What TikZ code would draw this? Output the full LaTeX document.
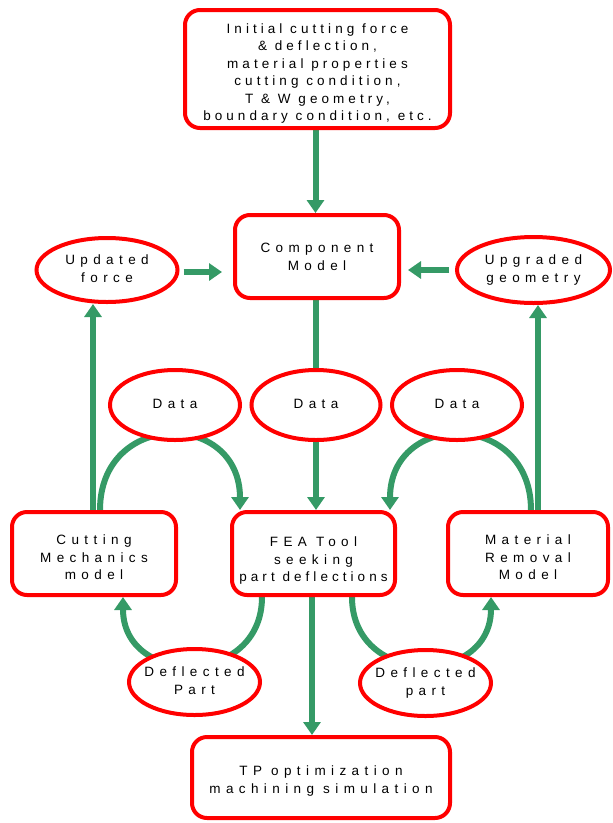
\documentclass[tikz,border=0pt]{standalone}
\usepackage{fontspec}
\setmainfont{Liberation Sans}
\newfontfamily\widefont[LetterSpace=40]{Liberation Sans}
\newfontfamily\midfont[LetterSpace=30]{Liberation Sans}
\usetikzlibrary{arrows.meta,shapes.geometric,backgrounds,calc}
\definecolor{gr}{RGB}{53,154,102}
\definecolor{rd}{RGB}{255,0,0}
% #1 = how far the text is moved down inside its node
\newcommand\lns[2][0pt]{\makebox[0pt]{\raisebox{0pt}[\dimexpr\height+#1*2\relax]{\begin{tabular}{@{}c@{}}#2\end{tabular}}}}
\begin{document}
\begin{tikzpicture}[x=1pt,y=-1pt,
  box/.style={draw=rd, line width=4pt, fill=white, rounded corners=15pt, inner sep=0pt,
    font=\fontsize{13.5}{17.5}\selectfont\widefont},
  oval/.style={ellipse, draw=rd, line width=4pt, fill=white, inner sep=0pt,
    font=\fontsize{13.5}{17.5}\selectfont\widefont},
  link/.style={draw=gr, line width=6pt},
  garrow/.style={link, -{Triangle[width=17pt,length=13pt]}}]
\useasboundingbox (0,0) rectangle (613,823);

\node[box, minimum width=265pt, minimum height=118pt, font=\fontsize{13.5}{17.4}\selectfont\midfont] (top) at (317.5,69)
  {\lns[4.5pt]{Initial cutting force\\ \& deflection,\\ material properties\\ cutting condition,\\ T \& W geometry,\\ boundary condition, etc.}};
\node[box, minimum width=164pt, minimum height=83pt] (comp) at (317,256.5) {\lns[1.5pt]{Component\\ Model}};
\node[oval, minimum width=141pt, minimum height=64pt] (uf) at (107,270) {\lns{Updated\\ force}};
\node[oval, minimum width=153pt, minimum height=66pt] (ug) at (533.5,270) {\lns{Upgraded\\ geometry}};
\node[oval, minimum width=130pt, minimum height=70pt] (d1) at (175,405) {\lns{Data}};
\node[oval, minimum width=129pt, minimum height=70pt] (d2) at (316,405) {\lns{Data}};
\node[oval, minimum width=130pt, minimum height=70pt] (d3) at (457,405) {\lns{Data}};
\node[box, minimum width=164pt, minimum height=83pt] (cm) at (94,553.5) {\lns[5pt]{Cutting\\ Mechanics\\ model}};
\node[box, minimum width=163pt, minimum height=83pt] (fea) at (313.5,553.5) {\lns[7pt]{FEA Tool\\ seeking\\ {\midfont part deflections}}};
\node[box, minimum width=160pt, minimum height=83pt] (mr) at (528,553.5) {\lns[5pt]{Material\\ Removal\\ Model}};
\node[oval, minimum width=131pt, minimum height=66pt] (dp1) at (194.5,682) {\lns{Deflected\\ Part}};
\node[oval, minimum width=131pt, minimum height=66pt] (dp2) at (425.5,683) {\lns{Deflected\\ part}};
\node[box, minimum width=258pt, minimum height=81pt] (tp) at (321,777.5) {\lns[3.5pt]{TP optimization\\ machining simulation}};

\begin{pgfonlayer}{background}
\draw[garrow] ([xshift=-2pt]top.south) -- ([xshift=-2pt]top.south |- comp.north);
\draw[garrow, shorten <=4pt, shorten >=11pt] ([yshift=-2pt]uf.east) -- ([yshift=-2pt]comp.west |- uf.east);
\draw[garrow, shorten <=6pt, shorten >=7pt] (ug.west) -- (comp.east |- ug.west);
\draw[garrow] ([xshift=-1pt]cm.north) -- ([xshift=-1pt]cm.north |- uf.south);
\draw[garrow] ([xshift=10pt]mr.north) -- ([xshift=10pt]mr.north |- ug.south);
\draw[link] ([xshift=-1pt]comp.south) -- (d2.north);
\draw[garrow] (d2.south) -- (d2.south |- fea.north);
\draw[garrow] ([xshift=-1.5pt]fea.south) -- ([xshift=-1.5pt]fea.south |- tp.north);
\draw[garrow] ([xshift=6pt]cm.north) .. controls +(0,-100) and +(0,-100) .. ([xshift=-73.5pt]fea.north);
\draw[garrow] ([xshift=3pt]mr.north) .. controls +(0,-100) and +(0,-100) .. ([xshift=76.5pt]fea.north);
\draw[garrow] ([xshift=-51.5pt]fea.south) .. controls +(0,90) and +(0,90) .. ([xshift=29pt]cm.south);
\draw[garrow] ([xshift=38.5pt]fea.south) .. controls +(0,90) and +(0,90) .. ([xshift=-37pt]mr.south);
\end{pgfonlayer}
\end{tikzpicture}
\end{document}
